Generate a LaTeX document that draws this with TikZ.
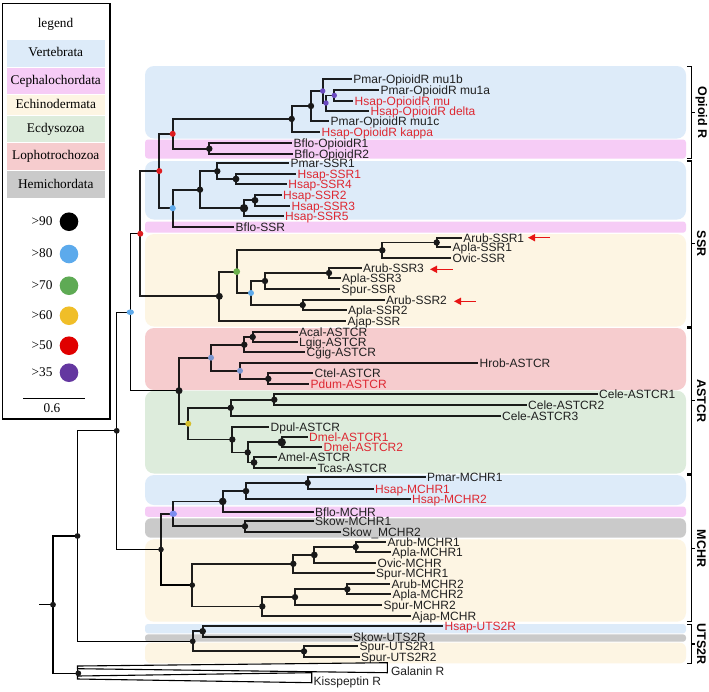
\documentclass[tikz,border=0pt]{standalone}
\usepackage{fontspec}
\setmainfont{Liberation Sans}
\newfontfamily\legserif{Liberation Serif}
\usetikzlibrary{arrows.meta}
\definecolor{cVert}{RGB}{221,235,249}
\definecolor{cCeph}{RGB}{246,204,246}
\definecolor{cEchi}{RGB}{253,245,227}
\definecolor{cEcdy}{RGB}{221,236,220}
\definecolor{cLoph}{RGB}{246,204,206}
\definecolor{cHemi}{RGB}{202,202,202}
\definecolor{bsA}{RGB}{0,0,0}
\definecolor{bsB}{RGB}{92,170,236}
\definecolor{bsC}{RGB}{94,170,84}
\definecolor{bsD}{RGB}{240,190,40}
\definecolor{bsE}{RGB}{224,0,0}
\definecolor{bsF}{RGB}{100,55,160}
\definecolor{dRed}{RGB}{222,28,32}
\definecolor{dBlue}{RGB}{95,170,235}
\definecolor{dGreen}{RGB}{108,176,76}
\definecolor{dYel}{RGB}{214,190,44}
\definecolor{dPur}{RGB}{107,75,192}
\definecolor{dSteel}{RGB}{122,150,208}
\definecolor{dPeri}{RGB}{125,140,240}
\definecolor{txtred}{RGB}{222,40,50}
\definecolor{txtblk}{RGB}{32,32,32}
\definecolor{arrred}{RGB}{232,20,20}
\newcommand\mynode[4]{\coordinate (#1) at (#3,#4); \draw[br] (#2) |- (#1);}
\newcommand\myouter[4]{\coordinate (#1) at (#3,#4); \draw[brt] (#2) |- (#1);}
\newcommand\myleaf[6]{\coordinate (#1) at (#3,#4); \draw[br] (#2) |- (#1);
  \node[lab,text=#6] (#1-t) at ([xshift=1.5pt,yshift=-4.3pt]#1) {#5};}
\newcommand\mybrack[4]{%
  \coordinate (#1-a) at (687,#2); \coordinate (#1-b) at (687,#3);
  \draw[brk] (#1-a) -- ++(4.3,0) |- (#1-b);
  \path (691.3,#2) -- coordinate (#1-m) (691.3,#3);
  \draw[brk] (#1-m) -- ++(3.5,0);
  \node[brlab] (#1-l) at ([xshift=10pt]#1-m) {#4};}
\begin{document}
\begin{tikzpicture}[x=1pt,y=-1pt,
  br/.style={line width=1.8pt, draw=black, draw opacity=0.88},
  brt/.style={line width=1.3pt, draw=black},
  tri/.style={line width=1.1pt, draw=black, fill=white},
  lab/.style={font=\fontsize{12}{14}\selectfont, inner sep=0pt, anchor=base west},
  brk/.style={line width=1.2pt},
  brlab/.style={rotate=-90, font=\bfseries\fontsize{12.5}{14}\selectfont, inner sep=0pt},
  legtxt/.style={font=\legserif\fontsize{13.3}{15}\selectfont, inner sep=0pt, text height=1.6ex, text depth=0.3ex},
  redarr/.style={draw=arrred, line width=1.5pt, -{Triangle[length=7pt,width=7pt]}},
  band/.style={rounded corners=9pt}]
\useasboundingbox (0,0) rectangle (709,691);
\fill[white] (0,0) rectangle (709,691);
% ---------- bands
\fill[cVert,band] (145,66) rectangle (686,138.5);
\fill[cCeph,rounded corners=3pt] (145,139.5) rectangle (686,158.5);
\fill[cVert,band] (145,161) rectangle (686,219.5);
\fill[cCeph,rounded corners=3pt] (145,221.5) rectangle (686,232.7);
\fill[cEchi,band] (145,234) rectangle (686,326.5);
\fill[cLoph,band] (145,328) rectangle (686,390);
\fill[cEcdy,band] (145,390.7) rectangle (686,473.5);
\fill[cVert,band] (145,475) rectangle (686,505);
\fill[cCeph,rounded corners=3pt] (145,506.5) rectangle (686,516.8);
\fill[cHemi,rounded corners=6pt] (145,518.3) rectangle (686,537.7);
\fill[cEchi,band] (145,539.3) rectangle (686,621.7);
\fill[cVert,rounded corners=3pt] (145,624) rectangle (686,633.3);
\fill[cHemi,rounded corners=3pt] (145,634.3) rectangle (686,641.7);
\fill[cEchi,rounded corners=6pt] (145,642.7) rectangle (686,663.3);
% ---------- legend
\draw[line width=1.2pt] (2.7,3.3) rectangle (110,419);
\node[legtxt] (lg) at (55.5,24) {legend};
\fill[cVert] (6.7,40) rectangle (105,66.7);
\node[legtxt] (lgA) at (55.8,53.3) {Vertebrata};
\fill[cCeph] (6.7,68.3) rectangle (105,94.3);
\node[legtxt] (lgB) at (55.8,81.3) {Cephalochordata};
\fill[cEchi] (6.7,95.3) rectangle (105,115);
\node[legtxt] (lgC) at (55.8,105.2) {Echinodermata};
\fill[cEcdy] (6.7,116) rectangle (105,141.7);
\node[legtxt] (lgD) at (55.8,128.8) {Ecdysozoa};
\fill[cLoph] (6.7,142.7) rectangle (105,170);
\node[legtxt] (lgE) at (55.8,156.3) {Lophotrochozoa};
\fill[cHemi] (6.7,171) rectangle (105,198.3);
\node[legtxt] (lgF) at (55.8,184.7) {Hemichordata};
\foreach \lt/\ly/\lc [count=\i] in {{>90}/221.7/bsA,{>80}/254/bsB,{>70}/285.7/bsC,{>60}/315.7/bsD,{>50}/345.7/bsE,{>35}/372.7/bsF}{
  \node[legtxt] (lgs\i) at (42,\ly) {\lt};
  \fill[\lc] (69,\ly) circle (9.3);
}
\coordinate (sbA) at (23.3,398.3); \coordinate (sbB) at (85,398.3);
\draw[line width=1.3pt] (sbA) -- (sbB);
\node[legtxt] (sbl) at (52,409.3) {0.6};
% ---------- outer tree
\coordinate (root) at (39.3,604.7);
\coordinate (N00) at (53,604.7);
\draw[brt] (root) -- (N00);
\myouter{N0}{N00}{77.5}{536}
\myouter{G}{N00}{78.3}{673.3}
\myouter{N1}{N0}{116.7}{430.8}
\myouter{U}{N0}{192.7}{641.3}
\myouter{Bl0}{N1}{130.3}{312.2}
\myouter{MC}{N1}{161}{549.5}
\myouter{R3}{Bl0}{140.3}{233.7}
\myouter{Q}{Bl0}{179}{390.7}
% ---------- Opioid / SSR vertebrate part
\mynode{R2}{R3}{159.3}{171}
\mynode{E}{R3}{219.3}{296.3}
\mynode{R1}{R2}{172.7}{133.8}
\mynode{Bl1}{R2}{172.7}{208.2}
\mynode{A}{R1}{291.7}{118.9}
\mynode{BF}{R1}{209.3}{148.7}
\mynode{B}{A}{311}{106}
\mynode{P1}{B}{322.7}{91}
\mynode{P2}{P1}{326}{103}
\mynode{P3}{P2}{334.3}{95.4}
\myleaf{mu1b}{P1}{351.7}{79}{Pmar-OpioidR mu1b}{txtblk}
\myleaf{mu1a}{P3}{379}{90}{Pmar-OpioidR mu1a}{txtblk}
\myleaf{hmu}{P3}{353}{100.7}{Hsap-OpioidR mu}{txtred}
\myleaf{hdelta}{P2}{369}{110.7}{Hsap-OpioidR delta}{txtred}
\myleaf{mu1c}{B}{329}{121}{Pmar-OpioidR mu1c}{txtblk}
\myleaf{hkappa}{A}{320}{131.7}{Hsap-OpioidR kappa}{txtred}
\myleaf{bo1}{BF}{292}{143.3}{Bflo-OpioidR1}{txtblk}
\myleaf{bo2}{BF}{292.7}{154}{Bflo-OpioidR2}{txtblk}
\mynode{V}{Bl1}{200}{189.7}
\mynode{W}{V}{217.3}{171.2}
\mynode{W2}{W}{236}{179}
\mynode{X}{V}{244}{208.2}
\mynode{X2}{X}{255}{200.3}
\myleaf{pssr1}{W}{289}{163.3}{Pmar-SSR1}{txtblk}
\myleaf{hssr1}{W2}{296}{174}{Hsap-SSR1}{txtred}
\myleaf{hssr4}{W2}{286.7}{184}{Hsap-SSR4}{txtred}
\myleaf{hssr2}{X2}{281.5}{195}{Hsap-SSR2}{txtred}
\myleaf{hssr3}{X2}{290}{205.7}{Hsap-SSR3}{txtred}
\myleaf{hssr5}{X}{283.5}{216}{Hsap-SSR5}{txtred}
\myleaf{bssr}{Bl1}{234}{226.7}{Bflo-SSR}{txtblk}
% ---------- echinoderm SSR
\mynode{G1}{E}{236.7}{271.6}
\mynode{K}{G1}{382.3}{250.3}
\mynode{K1}{K}{436.7}{242.5}
\mynode{Bl2}{G1}{251}{293}
\mynode{B3}{Bl2}{265}{281}
\mynode{B5}{B3}{329}{273}
\mynode{B4}{Bl2}{302.7}{305}
\myleaf{assr1}{K1}{461.7}{237.7}{Arub-SSR1}{txtblk}
\myleaf{plssr1}{K1}{451}{247.3}{Apla-SSR1}{txtblk}
\myleaf{ovssr}{K}{451}{258}{Ovic-SSR}{txtblk}
\myleaf{assr3}{B5}{361.5}{268.3}{Arub-SSR3}{txtblk}
\myleaf{plssr3}{B5}{340.5}{277.7}{Apla-SSR3}{txtblk}
\myleaf{spssr}{B3}{340}{289}{Spur-SSR}{txtblk}
\myleaf{assr2}{B4}{384.5}{300}{Arub-SSR2}{txtblk}
\myleaf{plssr2}{B4}{346.5}{310}{Apla-SSR2}{txtblk}
\myleaf{ajssr}{E}{346}{321}{Ajap-SSR}{txtblk}
% ---------- ASTCR
\mynode{L}{Q}{211}{357.7}
\mynode{L1}{L}{244.3}{344.7}
\mynode{L1a}{L1}{252.7}{337}
\mynode{L2}{L}{240}{370.8}
\mynode{L3}{L2}{268.3}{378.8}
\myleaf{acal}{L1a}{297.5}{331.7}{Acal-ASTCR}{txtblk}
\myleaf{lgig}{L1a}{297.5}{342.3}{Lgig-ASTCR}{txtblk}
\myleaf{cgig}{L1}{305}{352.3}{Cgig-ASTCR}{txtblk}
\myleaf{hrob}{L2}{478}{362.7}{Hrob-ASTCR}{txtblk}
\myleaf{ctel}{L3}{313}{373.3}{Ctel-ASTCR}{txtblk}
\myleaf{pdum}{L3}{309}{384.3}{Pdum-ASTCR}{txtred}
\mynode{Y}{Q}{188.3}{423.7}
\mynode{C}{Y}{230.7}{407.8}
\mynode{C1}{C}{274.3}{399.7}
\mynode{D}{Y}{232.3}{439.5}
\mynode{D2}{D}{247.7}{452.4}
\mynode{D3}{D2}{281.7}{442.3}
\mynode{D4}{D2}{254}{462.5}
\myleaf{cele1}{C1}{597.5}{394}{Cele-ASTCR1}{txtblk}
\myleaf{cele2}{C1}{526.5}{405.3}{Cele-ASTCR2}{txtblk}
\myleaf{cele3}{C}{500.5}{416}{Cele-ASTCR3}{txtblk}
\myleaf{dpul}{D}{269}{426.7}{Dpul-ASTCR}{txtblk}
\myleaf{dmel1}{D3}{307.5}{437.3}{Dmel-ASTCR1}{txtred}
\myleaf{dmel2}{D3}{322}{447.3}{Dmel-ASTCR2}{txtred}
\myleaf{amel}{D4}{276.5}{457.3}{Amel-ASTCR}{txtblk}
\myleaf{tcas}{D4}{316}{467.7}{Tcas-ASTCR}{txtblk}
% ---------- MCHR
\mynode{MB}{MC}{173.3}{513.8}
\mynode{M1}{MB}{222.7}{501.4}
\mynode{M2}{M1}{246}{491.1}
\mynode{M3}{M2}{307.7}{482.9}
\mynode{S}{MB}{245}{526.2}
\myleaf{pmchr1}{M3}{425.5}{476.7}{Pmar-MCHR1}{txtblk}
\myleaf{hmchr1}{M3}{373.5}{489}{Hsap-MCHR1}{txtred}
\myleaf{hmchr2}{M2}{410.5}{499.3}{Hsap-MCHR2}{txtred}
\myleaf{bmchr}{M1}{313.5}{511.7}{Bflo-MCHR}{txtblk}
\myleaf{smchr1}{S}{313.5}{520.7}{Skow-MCHR1}{txtblk}
\myleaf{smchr2}{S}{340.5}{531.7}{Skow\_MCHR2}{txtblk}
\myouter{EM}{MC}{192.3}{585.1}
\mynode{EM1}{EM}{293.3}{563.8}
\mynode{EM1a}{EM1}{314.3}{554.9}
\mynode{EM1b}{EM1a}{355.7}{547}
\mynode{EM2}{EM}{262.3}{606.4}
\mynode{EM2a}{EM2}{295}{597.1}
\mynode{EM2b}{EM2a}{347.3}{589.2}
\myleaf{amchr1}{EM1b}{386}{541.7}{Arub-MCHR1}{txtblk}
\myleaf{plmchr1}{EM1b}{390.5}{552.3}{Apla-MCHR1}{txtblk}
\myleaf{ovmchr}{EM1a}{376}{562.7}{Ovic-MCHR}{txtblk}
\myleaf{spmchr1}{EM1}{374.5}{572.7}{Spur-MCHR1}{txtblk}
\myleaf{amchr2}{EM2b}{390}{584}{Arub-MCHR2}{txtblk}
\myleaf{plmchr2}{EM2b}{391}{594.3}{Apla-MCHR2}{txtblk}
\myleaf{spmchr2}{EM2a}{382}{605}{Spur-MCHR2}{txtblk}
\myleaf{ajmchr}{EM2}{410.5}{615.7}{Ajap-MCHR}{txtblk}
% ---------- UTS2R
\mynode{U1}{U}{202.7}{631.2}
\mynode{SU}{U}{304}{651.3}
\myleaf{huts}{U1}{443}{625.7}{Hsap-UTS2R}{txtred}
\myleaf{suts}{U1}{351.5}{636.7}{Skow-UTS2R}{txtblk}
\myleaf{sputs1}{SU}{358}{646}{Spur-UTS2R1}{txtblk}
\myleaf{sputs2}{SU}{359.5}{656.7}{Spur-UTS2R2}{txtblk}
% ---------- collapsed outgroups
\coordinate (galA) at (77.5,666); \coordinate (galB) at (387.3,662.7);
\coordinate (galC) at (387.3,672.7); \coordinate (galD) at (77.5,668.7);
\coordinate (kisA) at (77.5,676); \coordinate (kisB) at (311.7,672.7);
\coordinate (kisC) at (311.7,682.7); \coordinate (kisD) at (77.5,679);
\draw[brt] (galA) -- (kisD);
\draw[tri] (galA) -- (galB) -- (galC) -- (galD) -- cycle;
\draw[tri] (kisA) -- (kisB) -- (kisC) -- (kisD) -- cycle;
\node[lab,text=txtblk] (galT) at ([xshift=3.5pt,yshift=-12.6pt]galB) {Galanin R};
\node[lab,text=txtblk] (kisT) at ([xshift=1.8pt,yshift=-12.3pt]kisB) {Kisspeptin R};
% ---------- support dots
\foreach \n/\r in {A/3.2,B/3.2,BF/3.2,V/3.2,W/3.2,W2/3.4,X2/3.4,X/4.2,K/3.2,K1/3.2,B3/3.2,B5/3.2,B4/3.2,E/3.5,L1/3.2,L1a/3.2,L3/3.2,C/3.2,C1/3.2,D/3.2,D2/3.2,D3/4.2,D4/3.4,Q/3.5,M1/3.8,M2/3.3,M3/3.2,S/3.2,EM1/3.2,EM1a/3.4,EM1b/3.2,EM2/3.2,EM2a/3.2,EM2b/3.2,U1/3.3,SU/3.2,N00/2.9,N0/2.9,N1/2.9,MC/2.8,EM/2.8,U/2.9,G/2.9}
  \fill[black!90] (\n) circle (\r);
\foreach \n/\c/\r in {R1/dRed/3,R2/dRed/3,R3/dRed/3,Bl1/dBlue/3.1,G1/dGreen/3.4,Bl2/dBlue/3,L/dSteel/3,L2/dSteel/3,Y/dYel/3,P1/dPur/2.7,P2/dPur/2.7,P3/dPur/2.7}
  \fill[\c] (\n) circle (\r);
\fill[dBlue] (Bl0) ellipse [x radius=3.7, y radius=2.8];
\fill[dPeri] (MB) ellipse [x radius=3.7, y radius=3.1];
% ---------- red arrows
\coordinate (ar1t) at (550,237.7); \coordinate (ar1h) at (528,237.7);
\coordinate (ar2t) at (452.7,269.3); \coordinate (ar2h) at (430,269.3);
\coordinate (ar3t) at (475.5,301.3); \coordinate (ar3h) at (454,301.3);
\draw[redarr] (ar1t) -- (ar1h);
\draw[redarr] (ar2t) -- (ar2h);
\draw[redarr] (ar3t) -- (ar3h);
% ---------- brackets
\mybrack{bo}{66.5}{158.5}{Opioid R}
\mybrack{bs}{161}{326.5}{SSR}
\mybrack{ba}{328}{473.5}{ASTCR}
\mybrack{bm}{475}{621.7}{MCHR}
\mybrack{bu}{624.5}{663.3}{UTS2R}
\end{tikzpicture}
\end{document}
